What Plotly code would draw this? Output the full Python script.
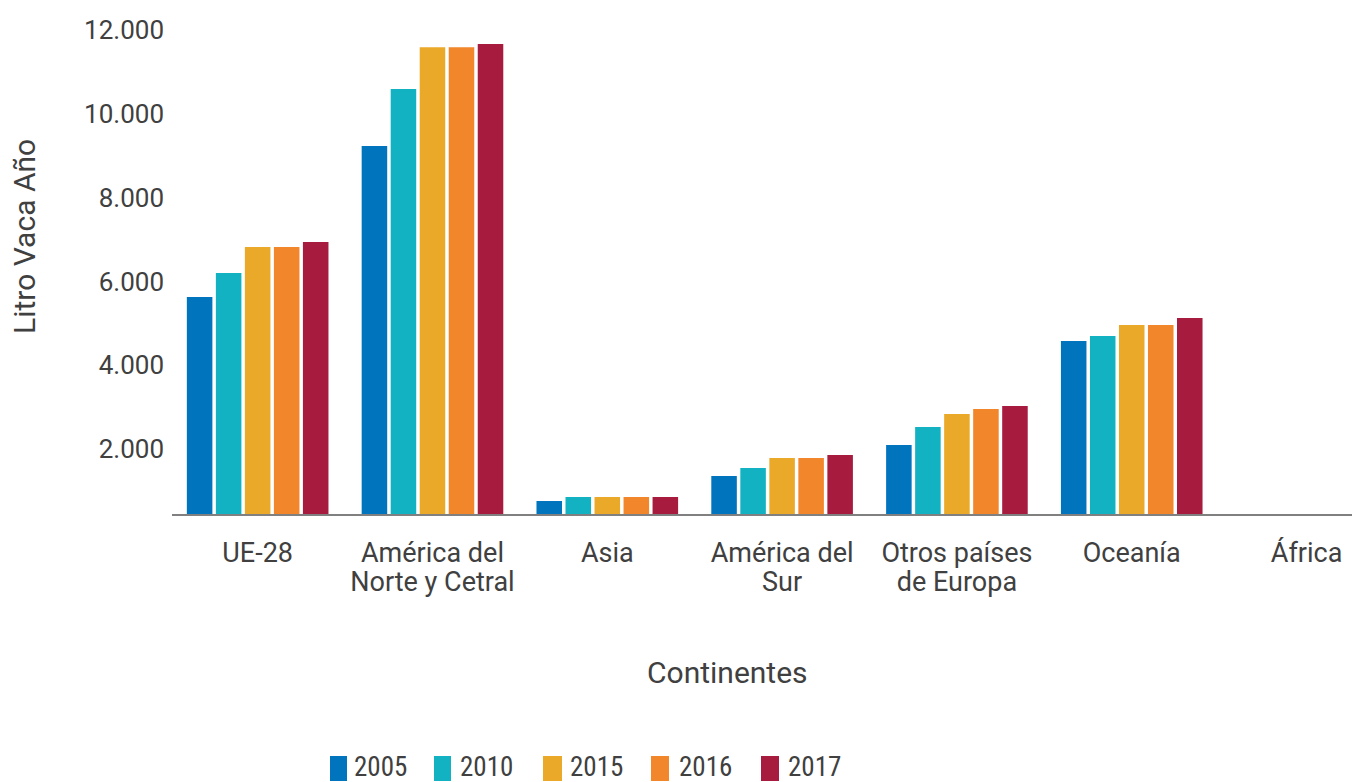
import plotly.graph_objects as go

categories = ["UE-28", "América del Norte y Cetral", "Asia", "América del Sur",
              "Otros países de Europa", "Oceanía", "África"]
label_line1 = ["UE-28", "América del", "Asia", "América del", "Otros países", "Oceanía", "África"]
label_line2 = ["", "Norte y Cetral", "", "Sur", "de Europa", "", ""]
years = ["2005", "2010", "2015", "2016", "2017"]
v2005 = [5630, 9230, 760, 1355, 2095, 4580, None]
v2010 = [6200, 10590, 855, 1545, 2525, 4700, None]
v2015 = [6820, 11590, 855, 1785, 2835, 4960, None]
v2016 = [6820, 11590, 855, 1785, 2955, 4960, None]
v2017 = [6940, 11665, 855, 1855, 3025, 5125, None]
series = [v2005, v2010, v2015, v2016, v2017]
colors = ["#0075BE", "#13B2C3", "#EBA92A", "#F2862B", "#A71C3E"]
yticks = [2000, 4000, 6000, 8000, 10000, 12000]

W, H = 1352, 782
ML, MR, MT, MB = 172, 0, 30, 268
PW, PH = W - ML - MR, H - MT - MB
XRANGE = [-0.49, 6.26]


def px(x):
    return (x - ML) / PW


def py(y):
    return (H - MB - y) / PH


font_color = "#404040"
fig = go.Figure()
for name, vals, col in zip(years, series, colors):
    fig.add_trace(go.Bar(x=categories, y=vals, name=name, marker_color=col,
                         marker_line_width=0))

# invisible helper trace so the second label row (xaxis2) is drawn
fig.add_trace(go.Scatter(x=list(range(len(categories))), y=[None] * len(categories),
                         xaxis="x2", yaxis="y", mode="markers", showlegend=False,
                         hoverinfo="skip", marker=dict(opacity=0)))

# custom legend (squares + labels)
leg_sq = [(330, 347), (434, 451), (543, 562), (651, 669), (761, 779)]
leg_tx = [352, 458, 568, 677, 786]
shapes = []
annotations = []
for (x0, x1), tx, name, col in zip(leg_sq, leg_tx, years, colors):
    shapes.append(dict(type="rect", xref="paper", yref="paper",
                       x0=px(x0), x1=px(x1), y0=py(781), y1=py(756),
                       fillcolor=col, line=dict(width=0)))
    annotations.append(dict(text=name, xref="paper", yref="paper", x=px(tx), y=py(767),
                            xanchor="left", yanchor="middle", showarrow=False,
                            font=dict(family="Liberation Sans Narrow, Roboto Condensed, Roboto",
                                      size=27, color=font_color)))

annotations.append(dict(text="Litro Vaca Año", xref="paper", yref="paper", x=px(25), y=py(237),
                        xanchor="center", yanchor="middle", showarrow=False, textangle=-90,
                        font=dict(family="Roboto", size=30, color=font_color)))
annotations.append(dict(text="Continentes", xref="paper", yref="paper", x=px(727), y=py(672),
                        xanchor="center", yanchor="middle", showarrow=False,
                        font=dict(family="Roboto", size=30, color=font_color)))

fig.update_layout(
    width=W, height=H,
    paper_bgcolor="white", plot_bgcolor="white",
    separators=",.",
    font=dict(family="Roboto", size=26, color=font_color),
    margin=dict(l=ML, r=MR, t=MT, b=MB, pad=0),
    barmode="group", bargap=0.17, bargroupgap=0.12,
    showlegend=False,
    shapes=shapes, annotations=annotations,
    xaxis=dict(showline=True, linecolor="#808080", linewidth=2, ticks="",
               range=XRANGE, automargin=False, ticklabelstandoff=14,
               tickvals=categories, ticktext=label_line1,
               tickfont=dict(size=27, color=font_color), showgrid=False),
    xaxis2=dict(overlaying="x", anchor="y", side="bottom", type="linear",
                range=XRANGE, automargin=False, ticklabelstandoff=49,
                tickvals=list(range(len(categories))), ticktext=label_line2,
                showline=False, showgrid=False, zeroline=False, ticks="",
                tickfont=dict(size=27, color=font_color)),
    yaxis=dict(range=[449, 12000], tickvals=yticks, tickformat=",.0f",
               showgrid=False, zeroline=False, showline=False, ticks="",
               automargin=False, ticklabelstandoff=7,
               tickfont=dict(size=26, color=font_color)),
)

fig.write_html("out.html", config={"displayModeBar": False},
               post_script="document.body.style.margin='0px';document.body.style.overflow='hidden';")
